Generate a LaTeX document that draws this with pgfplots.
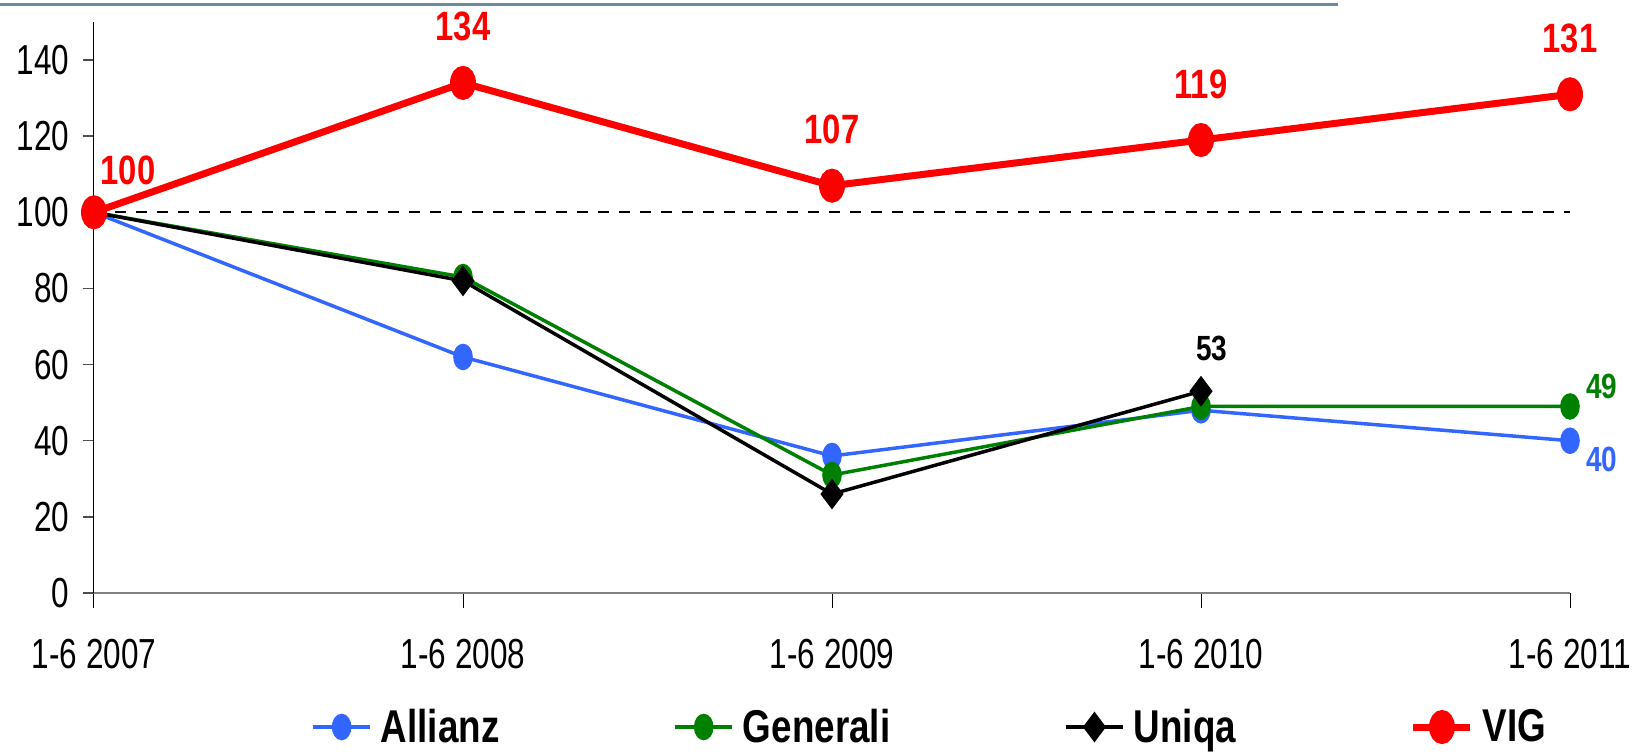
\documentclass[border=0pt]{standalone}
\usepackage{fontspec}
\setmainfont{Liberation Sans}[FakeStretch=0.8]
\newfontfamily\tickfont{Liberation Sans}[FakeStretch=0.75]
\usepackage{pgfplots}
\pgfplotsset{compat=1.18}
\definecolor{allianz}{RGB}{51,102,255}
\definecolor{generali}{RGB}{0,128,0}
\definecolor{vig}{RGB}{255,0,0}
\definecolor{topline}{RGB}{106,140,160}
\newcommand\biglab{\bfseries\fontsize{20.5}{24}\selectfont}
\newcommand\smalllab{\bfseries\fontsize{17.5}{20}\selectfont}
\begin{document}
\begin{tikzpicture}
\useasboundingbox (-47pt,-80pt) rectangle (772.5pt,296.5pt);
\draw[topline, line width=1.5pt] (-47pt,294pt) -- (622pt,294pt);
\begin{axis}[
  scale only axis,
  width=738pt, height=285.5pt,
  xmin=0, xmax=4, ymin=0, ymax=150,
  xtick={0,1,2,3,4},
  xticklabels={1-6 2007,1-6 2008,1-6 2009,1-6 2010,1-6 2011},
  ytick={0,20,...,140},
  axis x line=bottom, axis y line=left,
  x axis line style={-, draw=gray, line width=1pt},
  y axis line style={-, draw=black, line width=0.5pt},
  tick align=outside,
  xtick style={black, line width=0.5pt, /pgfplots/major tick length=7.5pt},
  ytick style={black!70, line width=0.75pt, /pgfplots/major tick length=5.5pt},
  tick label style={font=\tickfont\fontsize{21}{24}\selectfont},
  /pgf/number format/assume math mode=true,
  yticklabel style={anchor=east, inner sep=0pt, xshift=-8pt},
  xticklabel style={anchor=north, inner sep=0pt, yshift=-18.5pt},
  clip=false,
  legend columns=4,
  legend style={draw=none, fill=none, inner sep=0pt,
    at={(0.147,-0.2347)}, anchor=west,
    font=\bfseries\fontsize{23}{26}\selectfont,
    nodes={inner sep=0pt},
    /tikz/every odd column/.append style={column sep=4.5pt},
    /tikz/every even column/.append style={column sep=87pt}},
  legend image code/.code={\draw[mark repeat=2,mark phase=2,#1]
    plot coordinates {(0pt,0pt) (14.25pt,0pt) (28.5pt,0pt)};},
]
\addplot[black, line width=1pt, dash pattern=on 5.5pt off 5pt, forget plot]
  coordinates {(0,100) (4,100)};
\addplot[allianz, line width=1.75pt, mark=*, mark size=5.75pt,
  mark options={solid, xscale=0.7}]
  coordinates {(0,100) (1,62) (2,36) (3,48) (4,40)};
\addlegendentry{Allianz}
\addplot[generali, line width=1.75pt, mark=*, mark size=5.75pt,
  mark options={solid, xscale=0.7}]
  coordinates {(0,100) (1,83) (2,31) (3,49) (4,49)};
\addlegendentry{Generali}
\addplot[black, line width=1.75pt, mark=diamond*, mark size=6.25pt,
  mark options={solid}]
  coordinates {(0,100) (1,82) (2,26) (3,53)};
\addlegendentry{Uniqa}
\addplot[vig, line width=3.5pt, mark=*, mark size=6.75pt,
  mark options={solid, xscale=0.7}]
  coordinates {(0,100) (1,134) (2,107) (3,119) (4,131)};
\addlegendentry{VIG}
\node[vig, font=\biglab] at (axis cs:0,100) [xshift=17pt, yshift=21pt] {100};
\node[vig, font=\biglab] at (axis cs:1,134) [yshift=28pt] {134};
\node[vig, font=\biglab] at (axis cs:2,107) [yshift=28pt] {107};
\node[vig, font=\biglab] at (axis cs:3,119) [yshift=28pt] {119};
\node[vig, font=\biglab] at (axis cs:4,131) [yshift=28pt] {131};
\node[black, font=\smalllab] at (axis cs:3,53) [xshift=5.5pt, yshift=21.5pt] {53};
\node[generali, font=\smalllab] at (axis cs:4,49) [xshift=16pt, yshift=10pt] {49};
\node[allianz, font=\smalllab] at (axis cs:4,40) [xshift=16pt, yshift=-9.5pt] {40};
\end{axis}
\end{tikzpicture}
\end{document}
